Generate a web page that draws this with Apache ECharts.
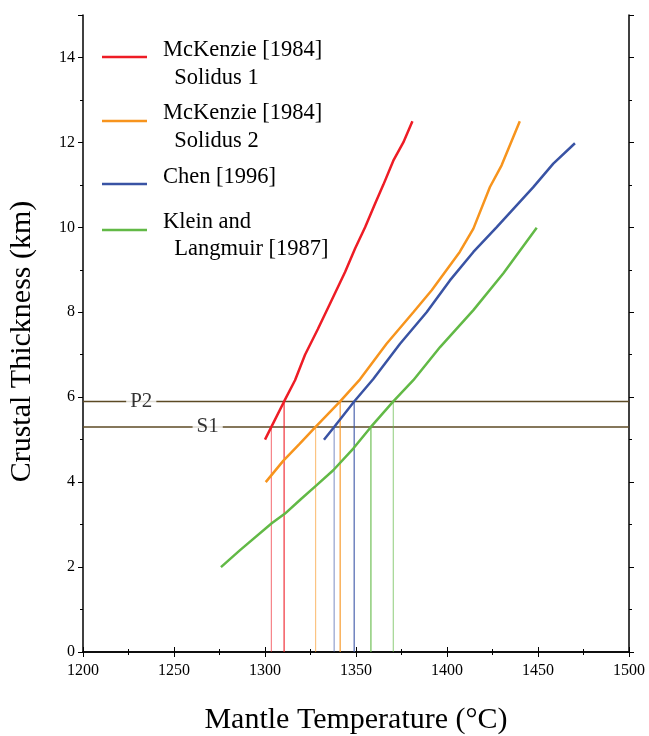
<!DOCTYPE html>
<html><head><meta charset="utf-8">
<script src="https://cdn.jsdelivr.net/npm/echarts@6/dist/echarts.min.js"></script>
<style>html,body{margin:0;padding:0;background:#fff}#c{width:649px;height:736px}</style>
</head><body><div id="c"></div>
<script>
// ---- data ----
const seriesNames = ['McKenzie [1984]\n  Solidus 1', 'McKenzie [1984]\n  Solidus 2', 'Chen [1996]', 'Klein and\n  Langmuir [1987]'];
const colors = ['#ee1c25', '#f7941d', '#3953a4', '#62b946'];
const mckenzie1 = [[1300,5.0],[1303.5,5.3],[1310.5,5.9],[1316.5,6.4],[1322,7.0],[1329,7.6],[1335.7,8.2],[1344,8.95],[1349.5,9.5],[1355,10.0],[1360.4,10.55],[1365,11.0],[1370.5,11.57],[1376,12.0],[1381,12.5]];
const mckenzie2 = [[1300.4,4.0],[1310,4.5],[1319,4.9],[1327.8,5.3],[1341.3,5.9],[1352.2,6.42],[1366.8,7.26],[1381.5,8.0],[1391.6,8.52],[1407,9.42],[1414.5,9.97],[1423.6,10.95],[1430,11.46],[1440,12.5]];
const chen = [[1332.4,5.0],[1338,5.3],[1349,5.9],[1359.5,6.43],[1374.2,7.26],[1388.8,8.0],[1401.6,8.75],[1414.5,9.42],[1427.2,10.0],[1447.3,10.94],[1458.4,11.5],[1470.3,11.98]];
const klein = [[1275.8,2.0],[1286.3,2.4],[1303.7,3.03],[1311,3.26],[1319.2,3.58],[1328.4,3.93],[1337.5,4.28],[1348.5,4.79],[1358.2,5.3],[1370.5,5.9],[1381.5,6.4],[1396.2,7.18],[1414.5,8.05],[1431,8.92],[1449.3,9.99]];
const levelNames = ['P2', 'S1'];
const levelValues = [5.9, 5.3];
const levelLabelX = [1232, 1268.5];
const dropS1 = [1303.5, 1327.8, 1338, 1358.2];
const dropP2 = [1310.5, 1341.3, 1349, 1370.5];
const xTicks = [1200, 1250, 1300, 1350, 1400, 1450, 1500];
const yTicks = [0, 2, 4, 6, 8, 10, 12, 14];

const curves = [mckenzie1, mckenzie2, chen, klein];
const FONT = 'Liberation Serif';
const chart = echarts.init(document.getElementById('c'), null, {renderer: 'canvas'});

const series = [];
levelValues.forEach((v, i) => {
  series.push({
    type: 'line', xAxisIndex: 0, yAxisIndex: 0, symbol: 'none', silent: true,
    data: [[xTicks[0], v], [xTicks[xTicks.length - 1], v]],
    lineStyle: {color: '#5c4a24', width: 1.5}, z: 1
  });
  series.push({
    type: 'scatter', xAxisIndex: 0, yAxisIndex: 0, symbolSize: 0, silent: true, z: 3,
    data: [[levelLabelX[i], v]],
    label: {show: true, position: 'inside', formatter: levelNames[i], fontFamily: FONT, fontSize: 21,
      color: '#000', backgroundColor: '#fff', padding: [0, 4, 0, 4]}
  });
});
dropS1.forEach((x, i) => {
  series.push({type: 'line', symbol: 'none', silent: true, z: 2,
    data: [[x, 0], [x, levelValues[1]]],
    lineStyle: {color: colors[i], width: 1.2, opacity: i === 3 ? 0.9 : 0.55}});
});
dropP2.forEach((x, i) => {
  series.push({type: 'line', symbol: 'none', silent: true, z: 2,
    data: [[x, 0], [x, levelValues[0]]],
    lineStyle: {color: colors[i], width: 1.2, opacity: i === 3 ? 0.6 : 0.9}});
});
curves.forEach((d, i) => {
  series.push({type: 'line', name: seriesNames[i], symbol: 'none', smooth: false, z: 5,
    data: d, lineStyle: {color: colors[i], width: 2.5}});
});

const axisCommon = {
  axisLine: {lineStyle: {color: '#000', width: 1.5}},
  axisTick: {inside: false, length: 5, lineStyle: {color: '#000', width: 1}},
  minorTick: {show: true, splitNumber: 2, length: 3, lineStyle: {color: '#000', width: 1}},
  splitLine: {show: false}
};

const legendGraphics = [];
const legendLineY = [57, 121, 184, 230];
const legendTextY = [[50, 78], [113, 141], [177], [222, 249]];
seriesNames.forEach((n, i) => {
  legendGraphics.push({type: 'line', shape: {x1: 102, y1: legendLineY[i], x2: 147, y2: legendLineY[i]},
    style: {stroke: colors[i], lineWidth: 2.5}});
  n.split('\n').forEach((p, j) => {
    legendGraphics.push({type: 'text', x: 163, y: legendTextY[i][j],
      style: {text: p, fontFamily: FONT, fontSize: 22.5, fill: '#000', verticalAlign: 'middle'}});
  });
});

chart.setOption({
  animation: false,
  backgroundColor: '#fff',
  grid: {left: 83, right: 20, top: 15, bottom: 84, containLabel: false, outerBoundsMode: 'none'},
  xAxis: [
    Object.assign({type: 'value', position: 'bottom', min: 1200, max: 1500, interval: 50,
      axisLabel: {fontFamily: FONT, fontSize: 16, color: '#000', margin: 11, formatter: v => String(v)},
      name: 'Mantle Temperature (°C)', nameLocation: 'middle', nameGap: 53,
      nameTextStyle: {fontFamily: FONT, fontSize: 30, color: '#000'}}, axisCommon),
    Object.assign({type: 'value', position: 'top', min: 1200, max: 1500, interval: 50,
      axisLabel: {show: false}}, axisCommon)
  ],
  yAxis: [
    Object.assign({type: 'value', position: 'left', min: 0, max: 15, interval: 2,
      axisLabel: {fontFamily: FONT, fontSize: 16, color: '#000', margin: 8,
        formatter: v => (v % 2 === 0 && v <= 14) ? String(v) : ''},
      name: 'Crustal Thickness (km)', nameLocation: 'middle', nameGap: 46,
      nameTextStyle: {fontFamily: FONT, fontSize: 30, color: '#000', padding: [0, 16, 0, 0]}}, axisCommon),
    Object.assign({type: 'value', position: 'right', min: 0, max: 15, interval: 2,
      axisLabel: {show: false}}, axisCommon)
  ],
  graphic: legendGraphics,
  series: series
});
</script></body></html>
